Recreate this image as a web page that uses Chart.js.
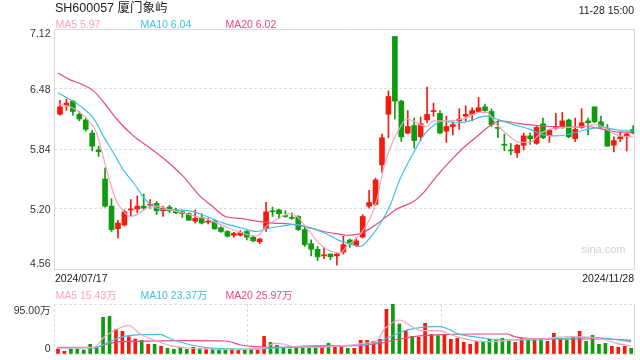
<!DOCTYPE html>
<html>
<head>
<meta charset="utf-8">
<script src="https://cdn.jsdelivr.net/npm/chart.js@4.4.1/dist/chart.umd.min.js"></script>
<style>
  html, body { margin: 0; padding: 0; background: #fff; }
  #wrap { position: relative; width: 640px; height: 360px; overflow: hidden;
          font-family: "Liberation Sans", Arial, "Noto Sans CJK SC", sans-serif; }
  #wrap canvas { position: absolute; left: 0; top: 0; }
  .t { position: absolute; line-height: 1; white-space: nowrap; font-size: 10.5px; color: #333; }
  .t span { display: inline-block; }
</style>
</head>
<body>
<div id="wrap">
  <canvas id="kline" width="640" height="360"></canvas>
  <canvas id="volume" width="640" height="360"></canvas>
  <div class="t" id="title" style="left:55px;top:2px;font-size:12.5px;color:#222"></div>
  <div class="t" id="stamp" style="right:6px;top:4.5px;color:#222"></div>
  <div class="t" id="priceLegend" style="left:55.5px;top:18.5px"></div>
  <div class="t" id="dateFirst" style="left:55px;top:273px;color:#222"></div>
  <div class="t" id="dateLast" style="right:6px;top:273px;color:#222"></div>
  <div class="t" id="volLegend" style="left:55.5px;top:289.5px"></div>
  <div class="t" style="left:581.5px;top:244px;font-size:11px;color:#d2d2d2">sina.com</div>
</div>
<script>
// ================================
// DATA
// ================================
const stockName = "SH600057 厦门象屿";
const stamp = "11-28 15:00";

const dates = [
  "2024/07/17","2024/07/18","2024/07/19","2024/07/22","2024/07/23","2024/07/24","2024/07/25","2024/07/26","2024/07/29","2024/07/30","2024/07/31",
  "2024/08/01","2024/08/02","2024/08/05","2024/08/06","2024/08/07","2024/08/08","2024/08/09","2024/08/12","2024/08/13","2024/08/14","2024/08/15",
  "2024/08/16","2024/08/19","2024/08/20","2024/08/21","2024/08/22","2024/08/23","2024/08/26","2024/08/27","2024/08/28","2024/08/29","2024/08/30",
  "2024/09/02","2024/09/03","2024/09/04","2024/09/05","2024/09/06","2024/09/09","2024/09/10","2024/09/11","2024/09/12","2024/09/13","2024/09/18",
  "2024/09/19","2024/09/20","2024/09/23","2024/09/24","2024/09/25","2024/09/26","2024/09/27","2024/09/30",
  "2024/10/08","2024/10/09","2024/10/10","2024/10/11","2024/10/14","2024/10/15","2024/10/16","2024/10/17","2024/10/18","2024/10/21","2024/10/22",
  "2024/10/23","2024/10/24","2024/10/25","2024/10/28","2024/10/29","2024/10/30","2024/10/31",
  "2024/11/01","2024/11/04","2024/11/05","2024/11/06","2024/11/07","2024/11/08","2024/11/11","2024/11/12","2024/11/13","2024/11/14","2024/11/15",
  "2024/11/18","2024/11/19","2024/11/20","2024/11/21","2024/11/22","2024/11/25","2024/11/26","2024/11/27","2024/11/28"
];

const openP = [
  6.21,6.30,6.35,6.21,6.15,6.01,5.83,5.52,5.23,4.99, 5.03,5.19,5.20,5.23,5.24,5.26,5.18,5.22,5.19,5.17,
  5.15,5.07,5.11,5.06,5.07,5.00,4.96,4.92,4.92,4.96, 4.90,4.85,4.99,5.18,5.19,5.13,5.11,5.12,4.98,4.83,
  4.77,4.70,4.72,4.70,4.74,4.87,4.81,4.90,5.23,5.25, 5.67,6.21,7.04,6.35,6.01,6.09,5.97,6.15,6.24,6.22,
  6.03,6.08,6.14,6.19,6.21,6.24,6.29,6.24,6.07,5.89, 5.83,5.80,5.88,5.98,5.90,6.11,5.99,6.06,6.08,6.15,
  5.95,6.07,6.14,6.29,6.13,6.05,5.88,5.95,5.97,6.05
];
const highP = [
  6.36,6.37,6.36,6.24,6.17,6.04,5.87,5.64,5.31,5.08, 5.19,5.30,5.34,5.36,5.30,5.28,5.23,5.24,5.21,5.19,
  5.16,5.19,5.15,5.10,5.09,5.01,4.97,4.95,4.97,4.97, 4.91,4.89,5.27,5.22,5.20,5.18,5.16,5.13,5.02,4.87,
  4.80,4.79,4.72,4.73,4.91,4.88,4.89,5.14,5.40,5.53, 6.00,6.46,7.04,6.36,6.25,6.17,6.18,6.50,6.33,6.25,
  6.19,6.13,6.27,6.30,6.28,6.39,6.32,6.27,6.14,6.00, 5.90,5.89,6.01,6.01,6.08,6.17,6.05,6.22,6.23,6.16,
  6.17,6.27,6.17,6.29,6.19,6.10,5.97,6.02,6.01,6.09
];
const lowP = [
  6.20,6.25,6.20,6.14,6.03,5.82,5.76,5.22,4.96,4.89, 5.02,5.12,5.16,5.19,5.21,5.14,5.12,5.16,5.15,5.11,
  5.08,5.05,5.04,5.04,4.98,4.95,4.90,4.90,4.91,4.87, 4.85,4.83,4.96,5.12,5.10,5.11,5.09,4.97,4.80,4.70,
  4.65,4.67,4.66,4.60,4.72,4.79,4.80,4.89,5.21,5.24, 5.59,5.96,6.16,5.92,6.00,5.85,5.93,6.12,6.19,6.00,
  5.91,5.99,6.05,6.14,6.14,6.23,6.24,6.08,5.96,5.82, 5.78,5.75,5.83,5.89,5.89,5.95,5.91,6.05,6.06,5.96,
  5.92,6.06,5.99,6.12,6.06,5.87,5.81,5.92,5.82,6.00
];
const closeP = [
  6.29,6.33,6.24,6.16,6.05,5.87,5.81,5.23,4.98,5.05, 5.17,5.20,5.23,5.21,5.25,5.18,5.21,5.18,5.16,5.15,
  5.08,5.10,5.05,5.07,4.99,4.96,4.91,4.94,4.95,4.90, 4.86,4.88,5.17,5.17,5.15,5.12,5.10,4.98,4.82,4.77,
  4.69,4.71,4.69,4.72,4.82,4.83,4.86,5.12,5.27,5.51, 5.96,6.40,6.35,5.97,6.08,5.93,6.11,6.21,6.25,6.01,
  6.08,6.10,6.16,6.21,6.25,6.28,6.25,6.10,6.06,5.88, 5.82,5.88,5.98,5.95,6.07,5.96,6.04,6.08,6.14,5.97,
  6.05,6.12,6.12,6.13,6.08,5.87,5.93,5.97,6.00,6.01
];

// volume, unit 万
const volume = [
  9.5,5.1,9.5,9.5,7.6,18.4,11.4,69.7,71.5,46.9, 43.1,32.9,28.5,26.0,18.4,18.4,14.6,10.8,8.9,12.7,
  8.9,12.7,10.1,9.5,10.1,8.9,7.6,9.5,7.6,7.6, 8.2,7.6,33.6,22.2,16.5,12.7,9.5,12.7,14.6,12.7,
  12.7,12.7,20.3,13.9,15.2,10.8,10.8,26.0,26.0,24.1, 27.9,84.9,95.0,57.0,45.0,33.6,31.7,58.3,37.4,34.8,
  36.7,27.9,29.8,22.2,18.4,24.1,22.2,27.9,26.6,29.8, 26.6,22.2,29.8,26.6,28.5,29.8,24.1,39.3,29.8,26.6,
  31.7,43.1,24.1,35.5,18.4,20.3,14.6,12.7,14.6,10.8
];

const priceTicks = [4.56, 5.20, 5.84, 6.48, 7.12];
const volTicks = [0, 95];
const volGridX = [-0.62, 29.5, 59.5];

// moving averages as drawn, [candle index, value]
const ma5Price = [
  [-0.3,6.32],[1.5,6.29],[3.1,6.23],[4.7,6.12],[5.7,6.01],[6.7,5.76],[7.8,5.48],[8.8,5.28],[9.8,5.18],
  [10.9,5.12],[11.9,5.14],[13.5,5.21],[15.0,5.23],[17.1,5.19],[19.1,5.16],[21.7,5.11],[22.8,5.095],
  [25.4,5.02],[28.0,4.95],[30.5,4.91],[32.1,5.02],[34.2,5.11],[35.7,5.15],[36.8,5.12],[38.3,5.00],
  [39.9,4.86],[41.4,4.77],[43.5,4.73],[44.5,4.80],[46.6,4.93],[48.1,5.09],[49.2,5.30],[50.2,5.62],
  [51.2,5.84],[52.8,6.07],[53.8,6.16],[54.9,6.14],[55.9,6.10],[56.9,6.08],[58.0,6.14],[60.0,6.14],
  [62.6,6.16],[65.2,6.23],[66.3,6.23],[67.8,6.10],[69.4,6.00],[71.4,5.91],[73.0,5.91],[74.5,6.00],
  [76.6,6.06],[79.2,6.07],[81.3,6.08],[83.4,6.10],[84.9,6.05],[86.9,5.98],[89,5.97]
];
const ma10Price = [
  [-0.3,6.44],[1.5,6.37],[3.1,6.30],[5.2,6.17],[6.7,5.98],[8.3,5.80],[9.8,5.62],[11.4,5.48],[13.5,5.28],
  [15.0,5.21],[17.6,5.19],[20.2,5.18],[22.8,5.12],[25.4,5.05],[28.0,5.00],[30.5,4.96],[32.1,4.99],
  [34.7,5.02],[36.2,5.035],[38.3,5.01],[40.9,4.95],[43.5,4.86],[44.5,4.84],[46.6,4.80],[48.1,4.89],
  [49.7,5.04],[51.2,5.23],[52.8,5.52],[54.9,5.80],[56.4,5.98],[58.0,6.09],[59.5,6.14],[61.6,6.12],
  [63.7,6.14],[65.2,6.18],[66.3,6.19],[67.8,6.16],[70.4,6.10],[73.0,6.05],[75.0,5.99],[77.1,5.98],
  [79.2,6.00],[81.8,6.05],[84.4,6.07],[86.9,6.04],[89,6.04]
];
const ma20Price = [
  [-0.3,6.65],[1.5,6.58],[3.4,6.53],[5.2,6.46],[7.0,6.32],[8.8,6.16],[11.4,5.98],[14.0,5.85],[16.6,5.71],
  [19.1,5.55],[21.7,5.34],[23.3,5.25],[25.7,5.12],[28.0,5.10],[30.5,5.07],[33.1,5.05],[35.7,5.04],
  [38.3,5.01],[40.9,4.96],[43.5,4.93],[44.5,4.92],[47.1,4.95],[49.2,5.04],[50.7,5.12],[52.3,5.20],
  [54.9,5.28],[56.4,5.37],[58.5,5.55],[60.6,5.71],[62.6,5.85],[65.2,6.00],[66.8,6.09],[68.3,6.14],
  [70.4,6.12],[74.0,6.09],[76.6,6.08],[79.2,6.07],[81.8,6.08],[84.4,6.05],[86.9,6.02],[89,6.02]
];

// volume moving averages, [bar index, 万]
const ma5Vol = [
  [-0.1,11.4],[5.6,12.7],[7.1,31.7],[9.2,47.5],[11.0,53.8],[12.8,38.0],[14.9,26.6],[17.5,15.8],[20.1,11.4],
  [22.7,9.5],[27.8,8.2],[29.8,9.5],[32.4,13],[33.5,20.3],[35.0,19.0],[36.5,14],[40.2,12.7],[44.5,16],
  [47.9,21],[49.5,25.3],[50.7,47.5],[52.0,60.0],[53.1,64.6],[54.7,53.8],[56.5,44.3],[58.9,44.3],
  [61.9,32.9],[64.5,25.3],[67.1,23.4],[69.7,25.3],[72.3,28.5],[74.8,28.5],[77.4,31.7],[80.0,32.9],
  [82.6,31.7],[85.2,26.6],[86.7,20.3],[89,15.43]
];
const ma10Vol = [
  [-0.1,11.4],[5.6,11.4],[7.1,18.0],[9.7,31.7],[12.8,36.7],[15.9,37.4],[17.5,28.5],[20.1,19.0],[22.7,12.7],
  [27.8,9.5],[29.8,9.5],[40.2,15.8],[45.3,15.8],[49.6,22.2],[51.4,31.7],[53.9,44.3],[56.5,50.6],
  [58.3,51.9],[59.3,51.9],[60.6,47.5],[61.9,39.3],[64.5,32.9],[67.1,28.5],[69.7,26.6],[74.8,27.2],
  [80.0,30.4],[82.6,31.7],[85.2,29.8],[87.8,25.3],[89,23.37]
];
const ma20Vol = [
  [-0.1,12.7],[5.6,12.7],[7.7,19.0],[9.7,23.4],[14.9,24.7],[20.1,25.3],[26.0,24.7],[28.4,17.1],[30.4,13.9],
  [35.0,12.7],[40.2,13.9],[45.3,15.8],[49.3,19.0],[53.1,28.5],[56.5,34.8],[59.3,36.7],[64.5,38.0],
  [69.7,38.0],[70.9,32.9],[74.8,28.5],[80.0,28.5],[85.2,28.5],[89,25.97]
];

// ================================
// STYLE
// ================================
const UP = "#f21b0d";
const DOWN = "#0e9c0e";
const MA5C = "#f9a3c1";
const MA10C = "#3cc2e6";
const MA20C = "#e9497f";
const GRID = "#dddddd";
const FONT = '10.5px "Liberation Sans", Arial, "Noto Sans CJK SC", sans-serif';

const idx = dates.map((d, i) => i);
const candleColor = idx.map(i => closeP[i] >= openP[i] ? UP : DOWN);
const pts = arr => arr.map(p => ({ x: p[0], y: p[1] }));
const last = arr => arr[arr.length - 1][1];

function maLine(label, arr, color) {
  return {
    type: "line", label, data: pts(arr), borderColor: color, borderWidth: 1.2,
    pointRadius: 0, cubicInterpolationMode: "monotone", order: 0
  };
}

// ================================
// PLUGINS: frame + axis labels
// ================================
const frame = {
  id: "frame",
  afterDatasetsDraw(chart, args, opts) {
    const { ctx, chartArea: a } = chart;
    ctx.save();
    ctx.strokeStyle = opts.color;
    ctx.lineWidth = 1;
    ctx.beginPath();
    if (opts.full) {
      ctx.rect(Math.round(a.left) + 0.5, Math.round(a.top) + 0.5,
        Math.round(a.right - a.left), Math.round(a.bottom - a.top));
    } else {
      ctx.moveTo(Math.round(a.right) + 0.5, a.top);
      ctx.lineTo(Math.round(a.right) + 0.5, a.bottom + 1);
    }
    ctx.stroke();
    ctx.restore();
  }
};

const yLabels = {
  id: "yLabels",
  afterDraw(chart, args, opts) {
    const { ctx, chartArea: a } = chart;
    const scale = chart.scales.y;
    ctx.save();
    ctx.font = FONT;
    ctx.fillStyle = "#333";
    ctx.textAlign = "right";
    ctx.textBaseline = "alphabetic";
    opts.ticks.forEach(v => {
      let y = scale.getPixelForValue(v);
      if (y - a.top < 2) y = a.top + opts.topBase;
      else if (a.bottom - y < 2) y = a.bottom - 2.5;
      else y = y + 3.6;
      ctx.fillText(opts.format(v), 50.5, y);
    });
    ctx.restore();
  }
};

// ================================
// PRICE CHART
// ================================
new Chart(document.getElementById("kline"), {
  type: "bar",
  data: {
    datasets: [
      maLine("MA5", ma5Price, MA5C),
      maLine("MA10", ma10Price, MA10C),
      maLine("MA20", ma20Price, MA20C),
      {
        label: "body", data: idx.map(i => ({ x: i, y: [openP[i], closeP[i]] })),
        backgroundColor: candleColor, barThickness: 5, minBarLength: 1, grouped: false, order: 1
      },
      {
        label: "wick", data: idx.map(i => ({ x: i, y: [lowP[i], highP[i]] })),
        backgroundColor: candleColor, barThickness: 1, grouped: false, order: 2
      }
    ]
  },
  options: {
    responsive: false, animation: false, events: [],
    layout: { padding: { left: 54, right: 6, top: 29, bottom: 91 } },
    plugins: {
      legend: { display: false }, tooltip: { enabled: false },
      frame: { color: "#d8d8d8", full: true },
      yLabels: { ticks: priceTicks, topBase: 8, format: v => v.toFixed(2) }
    },
    scales: {
      x: { type: "linear", min: -0.93, max: 89.13, offset: false, display: false },
      y: {
        min: 4.56, max: 7.12,
        afterBuildTicks: s => { s.ticks = priceTicks.map(v => ({ value: v })); },
        ticks: { display: false },
        grid: { drawTicks: false, color: c => (c.index > 0 && c.index < priceTicks.length - 1) ? GRID : "rgba(0,0,0,0)" },
        border: { display: false, dash: [3, 2] }
      }
    }
  },
  plugins: [frame, yLabels]
});

// ================================
// VOLUME CHART
// ================================
new Chart(document.getElementById("volume"), {
  type: "bar",
  data: {
    datasets: [
      maLine("MA5", ma5Vol, MA5C),
      maLine("MA10", ma10Vol, MA10C),
      maLine("MA20", ma20Vol, MA20C),
      {
        label: "volume", data: idx.map(i => ({ x: i, y: volume[i] })),
        backgroundColor: candleColor, barThickness: 3, grouped: false, order: 1
      }
    ]
  },
  options: {
    responsive: false, animation: false, events: [],
    layout: { padding: { left: 54, right: 6, top: 304, bottom: 6 } },
    plugins: {
      legend: { display: false }, tooltip: { enabled: false },
      frame: { color: "#d8d8d8", full: false },
      yLabels: { ticks: volTicks, topBase: 10, format: v => v === 0 ? "0" : v.toFixed(2) + "万" }
    },
    scales: {
      x: {
        type: "linear", min: -0.62, max: 89.44, offset: false,
        afterBuildTicks: s => { s.ticks = volGridX.map(v => ({ value: v })); },
        ticks: { display: false },
        grid: { drawTicks: false, color: GRID, offset: false },
        border: { display: false, dash: [3, 2] }
      },
      y: {
        min: 0, max: 95,
        afterBuildTicks: s => { s.ticks = volTicks.map(v => ({ value: v })); },
        ticks: { display: false },
        grid: { drawTicks: false, color: GRID },
        border: { display: false, dash: [3, 2] }
      }
    }
  },
  plugins: [frame, yLabels]
});

// ================================
// TEXT
// ================================
function legendHtml(items) {
  return items.map((it, k) =>
    `<span style="color:${it[2]};position:absolute;left:${k * 85}px">${it[0]} ${it[1]}</span>`).join("");
}
document.getElementById("title").textContent = stockName;
document.getElementById("stamp").textContent = stamp;
document.getElementById("dateFirst").textContent = dates[0];
document.getElementById("dateLast").textContent = dates[dates.length - 1];
document.getElementById("priceLegend").innerHTML = legendHtml([
  ["MA5", last(ma5Price).toFixed(2), MA5C],
  ["MA10", last(ma10Price).toFixed(2), MA10C],
  ["MA20", last(ma20Price).toFixed(2), MA20C]
]);
document.getElementById("volLegend").innerHTML = legendHtml([
  ["MA5", last(ma5Vol).toFixed(2) + "万", MA5C],
  ["MA10", last(ma10Vol).toFixed(2) + "万", MA10C],
  ["MA20", last(ma20Vol).toFixed(2) + "万", MA20C]
]);
</script>
</body>
</html>
